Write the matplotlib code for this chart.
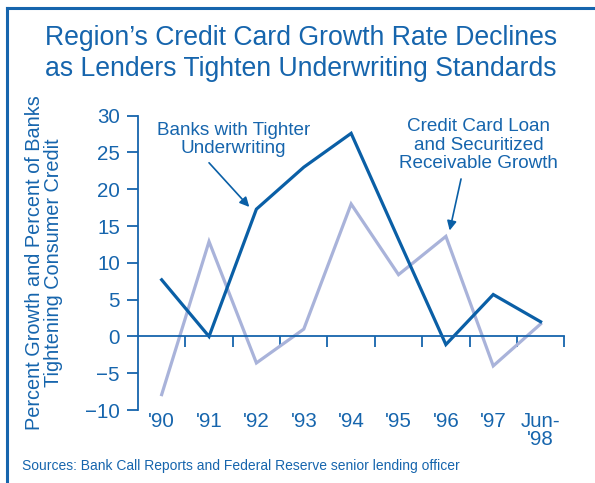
import matplotlib
matplotlib.use("Agg")
import matplotlib.pyplot as plt
from matplotlib.lines import Line2D

plt.rcParams['font.family'] = ['Liberation Sans', 'DejaVu Sans']

# data
years = ["'90", "'91", "'92", "'93", "'94", "'95", "'96", "'97", "Jun-\n'98"]
banks_tighter = [7.7, 0.0, 17.3, 23.0, 27.6, 13.2, -1.1, 5.7, 2.0]
card_growth = [-7.9, 12.9, -3.6, 1.0, 18.0, 8.4, 13.6, -4.0, 1.7]
yticks = [-10, -5, 0, 5, 10, 15, 20, 25, 30]

blue = '#1665ad'
dark = '#0a5fa6'
light = '#a9b3da'

fig = plt.figure(figsize=(5.95, 4.83), dpi=100)
ax = fig.add_axes([0.2319, 0.151, 0.7165, 0.6095])

x = list(range(len(years)))
ax.plot(x, card_growth, color=light, lw=2.3, solid_joinstyle='miter')
ax.plot(x, banks_tighter, color=dark, lw=2.3, solid_joinstyle='miter')

ax.set_xlim(-0.5, len(years) - 0.5)
ax.set_ylim(-10, 30)

# spines: left full, bottom at zero
for s in ['top', 'right']:
    ax.spines[s].set_visible(False)
ax.spines['left'].set_color(blue)
ax.spines['left'].set_linewidth(1.3)
ax.spines['bottom'].set_position(('data', 0))
ax.spines['bottom'].set_color(blue)
ax.spines['bottom'].set_linewidth(1.3)

ax.set_yticks(yticks)
ax.set_yticklabels([str(v).replace('-', '\u2212') for v in yticks])
ax.tick_params(axis='y', direction='out', length=8, width=1.3, color=blue,
               labelcolor=blue, labelsize=14.8, pad=5)
ax.set_xticks([i + 0.5 for i in x])
ax.tick_params(axis='x', direction='out', length=8, width=1.3, color=blue,
               labelbottom=False)

for i, lab in enumerate(years):
    ax.text(i, -10.3, lab, ha='center', va='top', color=blue, fontsize=14.8,
            linespacing=0.9, transform=ax.transData)

ax.set_ylabel('Percent Growth and Percent of Banks\nTightening Consumer Credit',
              color=blue, fontsize=14.3, linespacing=1.0, labelpad=16)

ax.text(1.51, 26.8, 'Banks with Tighter\nUnderwriting', ha='center', va='center',
        color=blue, fontsize=13.6, linespacing=1.08)
ax.annotate('', xy=(1.85, 17.6), xytext=(1.0, 23.6),
            arrowprops=dict(arrowstyle='-|>', color=dark, lw=1.2,
                            mutation_scale=14, shrinkA=0, shrinkB=0))
ax.text(6.69, 26.0, 'Credit Card Loan\nand Securitized\nReceivable Growth',
        ha='center', va='center', color=blue, fontsize=13.6, linespacing=1.12)
ax.annotate('', xy=(6.08, 14.4), xytext=(6.32, 21.4),
            arrowprops=dict(arrowstyle='-|>', color=dark, lw=1.2,
                            mutation_scale=14, shrinkA=0, shrinkB=0))

fig.text(0.506, 0.89, "Region\u2019s Credit Card Growth Rate Declines\n"
         "as Lenders Tighten Underwriting Standards", ha='center', va='center',
         color=blue, fontsize=19.2, linespacing=1.26)
fig.text(0.037, 0.035, 'Sources: Bank Call Reports and Federal Reserve senior lending officer',
         ha='left', va='center', color=blue, fontsize=10.0)

# frame lines along top and left
fig.add_artist(Line2D([0.012, 0.012], [0, 0.984], transform=fig.transFigure,
                      color=blue, lw=2.2))
fig.add_artist(Line2D([0.012, 1.0], [0.984, 0.984], transform=fig.transFigure,
                      color=blue, lw=2.2))

fig.savefig('out.png', dpi=100)
